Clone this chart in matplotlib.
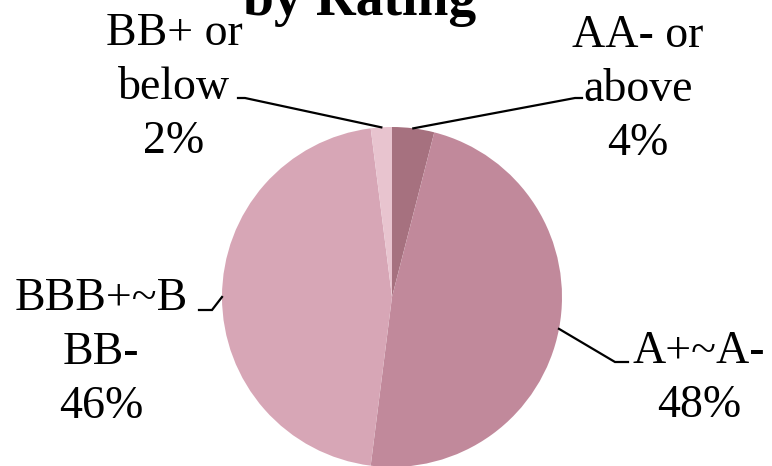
import matplotlib
matplotlib.use("Agg")
import matplotlib.pyplot as plt
import numpy as np

# ---- data ----
categories = ["AA- or\nabove", "A+~A-", "BBB+~B\nBB-", "BB+ or\nbelow"]
values = [4, 48, 46, 2]
colors = ["#A6717F", "#C1899B", "#D7A6B6", "#E8C4CF"]
title = "by Rating"

# ---- layout (pixels in a 772x466 canvas) ----
W, H = 772, 466
cx, cy, R = 392, 297, 170
# label anchor (center x, last-line baseline y) and leader elbow / end points
label_pos = [(638, 155), (699, 417), (101, 418), (174, 153)]
elbows = [((575, 98), (582, 98)), ((615, 362), (628, 362)),
          ((212, 310), (199, 310)), ((245, 98), (238, 98))]

plt.rcParams['font.family'] = ['Liberation Serif', 'DejaVu Serif']

fig = plt.figure(figsize=(W / 100, H / 100), dpi=100)
fig.patch.set_facecolor("white")
ax = fig.add_axes([(cx - R) / W, (H - cy - R) / H, 2 * R / W, 2 * R / H])

wedges, _ = ax.pie(values, colors=colors, startangle=90, counterclock=False,
                   radius=1, wedgeprops=dict(linewidth=0))
ax.set_xlim(-1, 1)
ax.set_ylim(-1, 1)
ax.set_aspect("auto")
ax.axis("off")
for w in wedges:
    w.set_clip_on(False)

def px2d(p):
    return ((p[0] - cx) / R, (cy - p[1]) / R)

total = sum(values)
for i, (cat, v) in enumerate(zip(categories, values)):
    w = wedges[i]
    mid = np.deg2rad((w.theta1 + w.theta2) / 2)
    edge = (np.cos(mid), np.sin(mid))
    e1 = px2d(elbows[i][0])
    e2 = px2d(elbows[i][1])
    ax.plot([edge[0], e1[0], e2[0]], [edge[1], e1[1], e2[1]], color="black",
            lw=1.6, clip_on=False, solid_joinstyle="miter")
    pct = f"{v / total * 100:.0f}%"
    lx, ly = px2d(label_pos[i])
    ax.text(lx, ly, f"{cat}\n{pct}", ha="center", va="baseline",
            fontsize=33, linespacing=1.35, clip_on=False, color="black",
            multialignment="center")

fig.text(360 / W, 1 - 15 / H, title, ha="center", va="baseline",
         fontsize=40, fontweight="bold", color="black")

fig.savefig("out.png", dpi=100)
